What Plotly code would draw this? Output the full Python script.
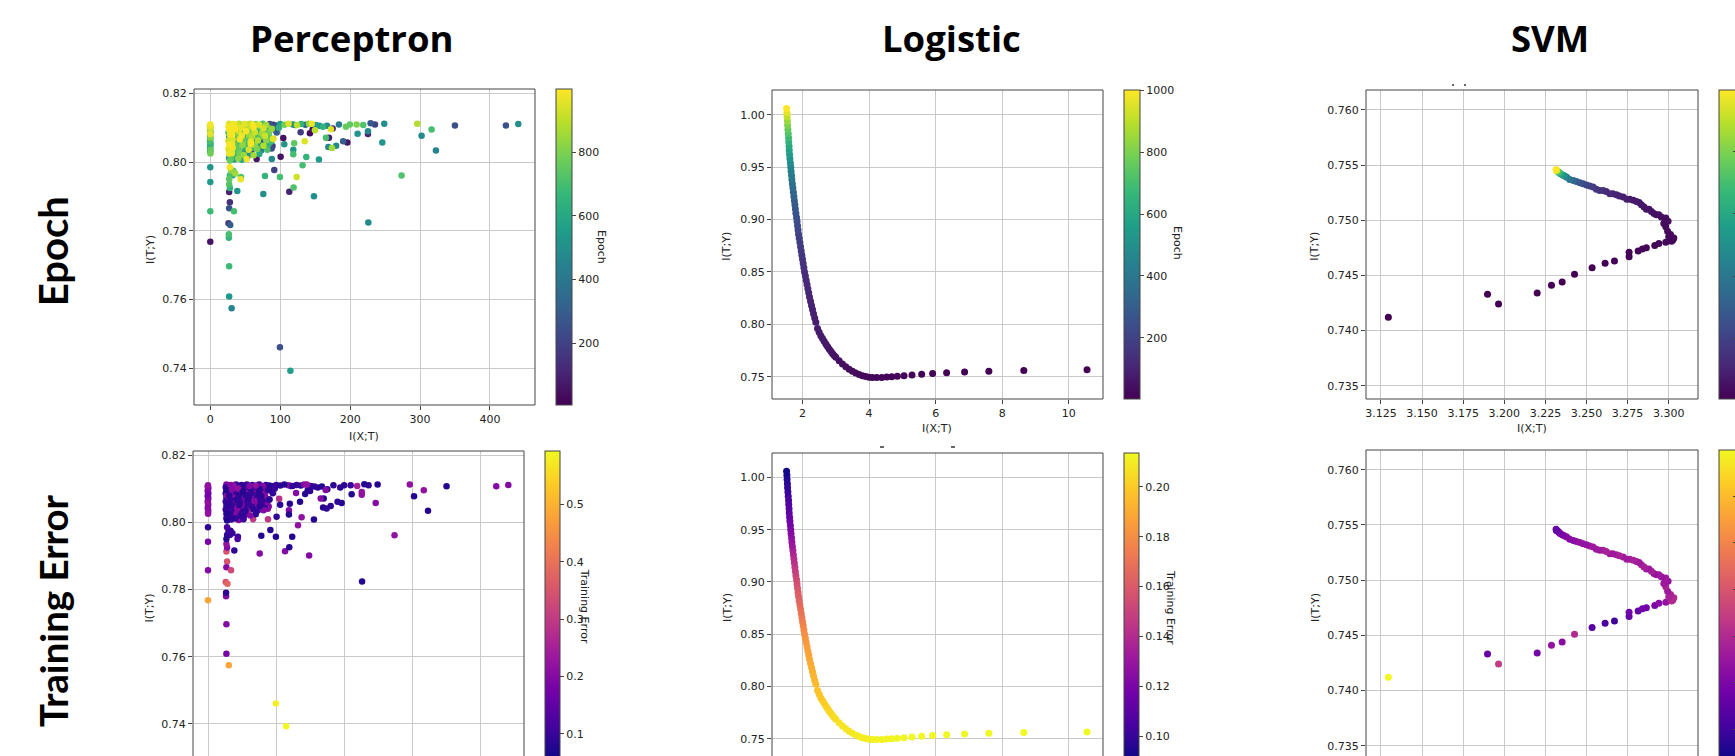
import plotly.graph_objects as go

W, H = 1735, 756


def fx(px):
    return px / W


def fy(py):
    return 1 - py / H


# ---------------- Perceptron data (I(X;T), I(T;Y), epoch, training error) ----------------
# column at I(X;T) ~ 0
perc_c0_x = [0.0, -0.5, 0.5, 0.0, -0.4, 0.3, 0.0, -0.3, 0.4, 0.0, -0.5, 0.2, 0.0, -0.2, 0.3, 0.0, 0.1, 0.0, 0.0, 0.0, 0.0]
perc_c0_y = [0.8110, 0.8106, 0.8102, 0.8097, 0.8092, 0.8087, 0.8082, 0.8077, 0.8072, 0.8066, 0.8060, 0.8054, 0.8048,
             0.8042, 0.8036, 0.8030, 0.8025, 0.7985, 0.7942, 0.7857, 0.7768]
perc_c0_ep = [980, 910, 950, 860, 880, 620, 960, 540, 820, 580, 700, 480, 640, 520, 760, 450, 780, 520, 540, 680, 60]
perc_c0_err = [0.22, 0.24, 0.20, 0.22, 0.20, 0.10, 0.18, 0.09, 0.20, 0.11, 0.22, 0.10, 0.20, 0.12, 0.21, 0.20, 0.22,
               0.09, 0.18, 0.20, 0.48]

# column at I(X;T) ~ 27
perc_c27_x = [27, 29, 26, 28, 27, 30, 26, 28, 27, 29, 26, 28, 27, 29, 26, 28, 27, 29, 27, 28,
              28, 30, 28, 27, 27, 28, 27, 28, 27, 26, 28.5, 26.5, 26.5, 27, 27, 30.5,
              33.8, 35.8, 38.6, 43.4, 43.9, 33, 32]
perc_c27_y = [0.8112, 0.8108, 0.8104, 0.8100, 0.8095, 0.8090, 0.8086, 0.8080, 0.8074, 0.8068,
              0.8062, 0.8056, 0.8050, 0.8044, 0.8038, 0.8032, 0.8025, 0.8018, 0.8012, 0.8005,
              0.7985, 0.7975, 0.7962, 0.7950, 0.7935, 0.7925, 0.7913, 0.7883, 0.7866, 0.7822,
              0.7817, 0.7790, 0.7780, 0.7697, 0.7609, 0.7575,
              0.7857, 0.7967, 0.7916, 0.7950, 0.7957, 0.7975, 0.7962]
perc_c27_ep = [950, 900, 980, 620, 990, 850, 700, 960, 560, 880,
               930, 740, 990, 600, 950, 820, 970, 680, 520, 760,
               980, 820, 700, 740, 720, 660, 100, 150, 260, 180,
               300, 700, 660, 680, 540, 460,
               700, 850, 520, 970, 720, 760, 560]
perc_c27_err = [0.20, 0.22, 0.10, 0.20, 0.08, 0.25, 0.10, 0.22, 0.09, 0.20,
                0.10, 0.22, 0.09, 0.20, 0.10, 0.22, 0.08, 0.20, 0.10, 0.08,
                0.12, 0.10, 0.09, 0.08, 0.22, 0.20, 0.35, 0.35, 0.20, 0.35,
                0.38, 0.09, 0.20, 0.20, 0.18, 0.48,
                0.33, 0.10, 0.09, 0.12, 0.10, 0.09, 0.10]

# dense block, I(X;T) 30..170, I(T;Y) 0.800..0.811
perc_blk_x = [33, 37, 41, 45, 49, 53, 57, 61, 65, 70, 75, 80, 85, 90, 95, 100, 106, 112, 118, 124, 130, 136, 141, 145, 151, 156, 161, 167,
              31, 35, 39, 44, 48, 52, 57, 62, 66, 71, 76, 82, 93.4, 88, 98,
              32, 36, 41, 46, 51, 56, 60, 64, 69, 74, 79, 84, 95,
              31, 35, 40, 45, 50, 55, 60, 66, 72, 78, 84, 90,
              32, 37, 42, 47, 53, 58, 63, 68, 74, 80, 87,
              31, 36, 41, 46, 52, 58, 64, 70, 76, 83, 89,
              32, 37, 43, 49, 55, 61, 67, 73, 81.5, 87.7, 47.8, 58.5,
              31, 36, 42, 48, 55, 62, 70,
              30, 34, 40, 45, 52, 52.9, 66.3, 88, 100.6]
perc_blk_y = [0.8111, 0.8109, 0.8112, 0.8108, 0.8111, 0.8109, 0.8112, 0.8108, 0.8111, 0.8109, 0.8112, 0.8108, 0.8111, 0.8109,
              0.8107, 0.8111, 0.8109, 0.8112, 0.8110, 0.8108, 0.8111, 0.8109, 0.8112, 0.8112, 0.8108, 0.8106, 0.8103, 0.8106,
              0.8101, 0.8098, 0.8103, 0.8100, 0.8097, 0.8102, 0.8099, 0.8101, 0.8097, 0.8103, 0.8099, 0.8101, 0.8093, 0.8097, 0.8100,
              0.8092, 0.8088, 0.8091, 0.8087, 0.8090, 0.8086, 0.8091, 0.8087, 0.8090, 0.8085, 0.8089, 0.8087, 0.8086,
              0.8079, 0.8076, 0.8080, 0.8077, 0.8074, 0.8079, 0.8075, 0.8078, 0.8074, 0.8077, 0.8075, 0.8068,
              0.8066, 0.8063, 0.8066, 0.8062, 0.8065, 0.8061, 0.8066, 0.8063, 0.8060, 0.8064, 0.8060,
              0.8053, 0.8050, 0.8054, 0.8051, 0.8048, 0.8053, 0.8049, 0.8052, 0.8048, 0.8051, 0.8047,
              0.8041, 0.8038, 0.8042, 0.8039, 0.8036, 0.8041, 0.8038, 0.8035, 0.8036, 0.8040, 0.8032, 0.8032,
              0.8026, 0.8022, 0.8026, 0.8021, 0.8024, 0.8020, 0.8024,
              0.8012, 0.8008, 0.8011, 0.8007, 0.8009, 0.8016, 0.8009, 0.8009, 0.8016]
perc_blk_ep = [980, 940, 880, 760, 960, 600, 910, 990, 820, 940, 700, 860, 240, 160, 280, 560, 780, 950, 520, 900, 640, 300, 820, 970, 560, 520, 650, 480,
               920, 990, 720, 960, 560, 900, 840, 980, 620, 760, 930, 700, 220, 840, 620,
               970, 780, 940, 640, 990, 100, 760, 920, 580, 860, 700, 780, 300,
               990, 620, 800, 980, 520, 840, 880, 680, 760, 920, 740, 950,
               940, 600, 990, 760, 720, 960, 500, 880, 240, 820, 700,
               970, 760, 600, 830, 700, 990, 820, 540, 880, 640, 180,
               980, 720, 760, 560, 940, 680, 800, 460, 720, 230, 160, 120,
               960, 640, 780, 840, 520, 860, 600,
               720, 560, 820, 600, 980, 70, 60, 480, 60]
perc_blk_err = [0.20, 0.22, 0.10, 0.20, 0.09, 0.22, 0.10, 0.20, 0.08, 0.22, 0.10, 0.20, 0.09, 0.08, 0.09, 0.10, 0.09, 0.08, 0.20, 0.09, 0.10, 0.08, 0.20, 0.22, 0.09, 0.10, 0.09, 0.08,
                0.09, 0.20, 0.09, 0.22, 0.10, 0.09, 0.20, 0.09, 0.22, 0.10, 0.09, 0.20, 0.09, 0.09, 0.10,
                0.20, 0.09, 0.10, 0.20, 0.08, 0.22, 0.09, 0.10, 0.20, 0.09, 0.10, 0.20, 0.09,
                0.09, 0.10, 0.20, 0.09, 0.22, 0.10, 0.09, 0.20, 0.10, 0.09, 0.22, 0.09,
                0.10, 0.20, 0.09, 0.10, 0.20, 0.09, 0.10, 0.20, 0.09, 0.10, 0.20,
                0.09, 0.10, 0.22, 0.09, 0.20, 0.10, 0.09, 0.20, 0.09, 0.10, 0.20,
                0.10, 0.09, 0.20, 0.10, 0.09, 0.22, 0.09, 0.10, 0.20, 0.20, 0.30, 0.30,
                0.09, 0.10, 0.20, 0.09, 0.10, 0.20, 0.09,
                0.09, 0.10, 0.09, 0.20, 0.10, 0.22, 0.30, 0.30, 0.09]

# scattered outer points
perc_out_x = [440.5, 422.8, 349.9, 322.7, 302.2, 316.5, 296.0, 273.6, 248.8, 246.0,
              225.5, 225.5, 226.0, 210.7, 209.3, 229.3, 235.5, 199.7, 194.0, 218.8,
              184.0, 196.0, 190.0, 180.0, 168.8, 169.7, 174.0, 172.6, 175.0, 165.4,
              155.4, 148.3, 149.7, 146.3, 142.5, 137.3, 135.0, 132.0, 129.2, 123.5,
              119.2, 113.0, 120.0, 118.7, 118.7, 121.6, 104.4, 105.8, 99.6, 91.5,
              90.0, 78.2, 75.8, 99.6, 114.6]
perc_out_y = [0.8111, 0.8107, 0.8107, 0.8034, 0.8077, 0.8095, 0.8112, 0.7961, 0.8112, 0.8057,
              0.8090, 0.8082, 0.7824, 0.8083, 0.8110, 0.8113, 0.8110, 0.8110, 0.8103, 0.8108,
              0.8110, 0.8057, 0.8061, 0.8048, 0.8044, 0.8071, 0.8041, 0.8096, 0.8098, 0.8071,
              0.8008, 0.7901, 0.8093, 0.8095, 0.8084, 0.8015, 0.8061, 0.7991, 0.8087, 0.7957,
              0.7926, 0.7914, 0.8055, 0.8036, 0.8023, 0.8108, 0.8070, 0.8052, 0.7957, 0.7977,
              0.8068, 0.7960, 0.7907, 0.7461, 0.7393]
perc_out_ep = [500, 250, 250, 450, 480, 700, 880, 720, 500, 520,
               470, 100, 480, 520, 800, 280, 200, 750, 760, 720,
               420, 60, 300, 480, 470, 80, 860, 950, 100, 700,
               550, 500, 900, 50, 30, 650, 950, 700, 180, 930,
               720, 100, 750, 530, 700, 220, 50, 520, 700, 200,
               950, 650, 500, 250, 560]
perc_out_err = [0.20, 0.20, 0.08, 0.08, 0.08, 0.22, 0.22, 0.22, 0.08, 0.20,
                0.22, 0.22, 0.08, 0.08, 0.10, 0.08, 0.09, 0.09, 0.09, 0.25,
                0.09, 0.08, 0.09, 0.09, 0.08, 0.08, 0.09, 0.20, 0.09, 0.20,
                0.08, 0.20, 0.09, 0.08, 0.08, 0.22, 0.08, 0.22, 0.20, 0.08,
                0.08, 0.20, 0.08, 0.20, 0.08, 0.09, 0.28, 0.09, 0.08, 0.08,
                0.09, 0.08, 0.20, 0.58, 0.59]

# ---------------- Logistic data ----------------
log_steep_x = [1.52, 1.53, 1.535, 1.545, 1.55, 1.56, 1.57, 1.58, 1.585, 1.595, 1.60, 1.61, 1.62, 1.635, 1.645, 1.655,
               1.67, 1.68, 1.695, 1.71, 1.725, 1.74, 1.755, 1.77, 1.785, 1.80, 1.82, 1.835, 1.85, 1.865, 1.88, 1.90,
               1.92, 1.94, 1.96, 1.98, 2.00, 2.02, 2.04, 2.06, 2.085, 2.11, 2.135, 2.16, 2.185, 2.21, 2.24, 2.27,
               2.30, 2.33, 2.365, 2.40]
log_steep_y = [1.006, 1.002, 0.998, 0.994, 0.990, 0.986, 0.982, 0.978, 0.974, 0.970, 0.966, 0.962, 0.958, 0.954, 0.950, 0.946,
               0.942, 0.938, 0.934, 0.930, 0.926, 0.922, 0.918, 0.914, 0.910, 0.906, 0.902, 0.898, 0.894, 0.890, 0.886, 0.882,
               0.878, 0.874, 0.870, 0.866, 0.862, 0.858, 0.854, 0.850, 0.846, 0.842, 0.838, 0.834, 0.830, 0.826, 0.822, 0.818,
               0.814, 0.810, 0.806, 0.802]
log_steep_ep = [1000, 960, 900, 850, 800, 760, 720, 680, 640, 605, 575, 545, 515, 485, 458, 432,
                410, 390, 370, 350, 330, 312, 297, 282, 268, 256, 244, 232, 220, 210, 200, 190,
                181, 173, 165, 157, 150, 144, 138, 132, 126, 121, 116, 111, 107, 103, 99, 95,
                91, 88, 85, 82]
log_steep_err = [0.091, 0.093, 0.096, 0.098, 0.100, 0.102, 0.104, 0.106, 0.108, 0.110, 0.112, 0.115, 0.117, 0.120, 0.122, 0.125,
                 0.127, 0.130, 0.133, 0.136, 0.139, 0.142, 0.144, 0.147, 0.149, 0.152, 0.154, 0.156, 0.159, 0.161, 0.163, 0.165,
                 0.167, 0.169, 0.171, 0.173, 0.175, 0.177, 0.179, 0.181, 0.183, 0.184, 0.186, 0.187, 0.188, 0.189, 0.190, 0.191,
                 0.192, 0.193, 0.194, 0.195]
log_knee_x = [2.45, 2.50, 2.55, 2.60, 2.65, 2.70, 2.75, 2.80, 2.85, 2.90, 2.95, 3.00, 3.10, 3.20, 3.30, 3.40, 3.50, 3.60,
              3.70, 3.80, 3.90, 4.00, 4.10]
log_knee_y = [0.7960, 0.7925, 0.7890, 0.7865, 0.7838, 0.7812, 0.7788, 0.7765, 0.7743, 0.7722, 0.7703, 0.7685, 0.7652,
              0.7622, 0.7595, 0.7572, 0.7552, 0.7535, 0.7521, 0.7510, 0.7501, 0.7495, 0.7491]
log_knee_ep = [77, 74, 71, 68, 65, 62, 59, 56, 53, 50, 47, 44, 41, 38, 35, 32, 29, 27, 25, 23, 21, 19, 17]
log_knee_err = [0.197, 0.198, 0.199, 0.200, 0.201, 0.202, 0.203, 0.203, 0.204, 0.205, 0.205, 0.206, 0.207, 0.207, 0.208,
                0.208, 0.209, 0.209, 0.210, 0.210, 0.210, 0.211, 0.211]
log_tail_x = [4.23, 4.38, 4.53, 4.68, 4.85, 5.05, 5.29, 5.58, 5.91, 6.33, 6.87, 7.60, 8.65, 10.55]
log_tail_y = [0.7491, 0.7493, 0.7496, 0.7500, 0.7505, 0.7509, 0.7516, 0.7524, 0.7531, 0.7537, 0.7545, 0.7552, 0.7558, 0.7565]
log_tail_ep = [14, 13, 12, 11, 10, 9, 8, 7, 6, 5, 4, 3, 2, 1]
log_tail_err = [0.2115, 0.2118, 0.2120, 0.2122, 0.2124, 0.2126, 0.2127, 0.2128, 0.2129, 0.2130, 0.2131, 0.2132, 0.2133, 0.2134]

# ---------------- SVM data ----------------
svm_path_x = [3.1295, 3.1898, 3.1965, 3.2200, 3.2287, 3.2352, 3.2427, 3.2534, 3.2613, 3.2670,
              3.2759, 3.2759, 3.2814, 3.2840, 3.2864, 3.2915, 3.2940, 3.2982, 3.3017, 3.3031,
              3.3011, 3.2993, 3.2982, 3.2970, 3.2996, 3.2982, 3.2955, 3.2925, 3.2895, 3.2864,
              3.2834, 3.2804, 3.2763, 3.2723, 3.2682, 3.2642, 3.2601, 3.2560, 3.2520, 3.2479,
              3.2439, 3.2398, 3.2368, 3.2342, 3.2328, 3.2320, 3.2317, 3.2315]
svm_path_y = [0.7412, 0.7433, 0.7424, 0.7434, 0.7441, 0.7444, 0.7451, 0.7457, 0.7461, 0.7463,
              0.7467, 0.7471, 0.7472, 0.7474, 0.7475, 0.7477, 0.7479, 0.7480, 0.7481, 0.7484,
              0.7487, 0.7490, 0.7494, 0.7497, 0.7499, 0.7502, 0.7503, 0.7505, 0.7508, 0.7510,
              0.7514, 0.7517, 0.7519, 0.7521, 0.7523, 0.7524, 0.7527, 0.7528, 0.7531, 0.7533,
              0.7535, 0.7537, 0.7540, 0.7542, 0.7544, 0.7545, 0.7545, 0.7546]
svm_path_ep = [1, 2, 3, 4, 5, 6, 7, 8, 9, 10,
               11, 12, 13, 14, 15, 16, 17, 18, 20, 22,
               25, 28, 31, 34, 37, 40, 44, 48, 53, 58,
               64, 70, 78, 88, 100, 115, 135, 160, 190, 230,
               290, 380, 480, 580, 700, 820, 920, 997]
svm_path_err = [0.399, 0.13, 0.22, 0.14, 0.17, 0.16, 0.20, 0.12, 0.11, 0.10,
                0.13, 0.14, 0.13, 0.14, 0.14, 0.15, 0.16, 0.17, 0.20, 0.20,
                0.19, 0.18, 0.19, 0.18, 0.17, 0.18, 0.17, 0.18, 0.19, 0.18,
                0.19, 0.18, 0.19, 0.18, 0.19, 0.18, 0.19, 0.18, 0.18, 0.17,
                0.17, 0.16, 0.16, 0.15, 0.14, 0.14, 0.13, 0.13]
svm_band_x = [3.3025, 3.3000, 3.2980, 3.2940, 3.2910, 3.2880, 3.2850, 3.2820, 3.2785, 3.2745,
              3.2700, 3.2660, 3.2620, 3.2580, 3.2540, 3.2500, 3.2460, 3.2420, 3.2380, 3.2355, 3.2335]
svm_band_y = [0.7482, 0.7485, 0.7500, 0.7505, 0.7506, 0.7510, 0.7512, 0.7516, 0.7518, 0.7519,
              0.7522, 0.7524, 0.7526, 0.7527, 0.7530, 0.7532, 0.7534, 0.7536, 0.7539, 0.7541, 0.7543]
svm_band_ep = [21, 23, 39, 46, 50, 55, 61, 67, 74, 83, 94, 108, 125, 148, 175, 210, 260, 330, 430, 530, 640]
svm_band_err = [0.20, 0.19, 0.18, 0.18, 0.17, 0.18, 0.19, 0.18, 0.19, 0.18,
                0.19, 0.18, 0.19, 0.18, 0.18, 0.17, 0.17, 0.16, 0.16, 0.15, 0.15]

col_titles = ["Perceptron", "Logistic", "SVM"]
row_titles = ["Epoch", "Training Error"]


def combine(*groups):
    xs, ys, es, rs = [], [], [], []
    for gx, gy, ge, gr in groups:
        assert len(gx) == len(gy) == len(ge) == len(gr), (len(gx), len(gy), len(ge), len(gr))
        xs += list(gx); ys += list(gy); es += list(ge); rs += list(gr)
    order = sorted(range(len(xs)), key=lambda i: es[i])
    return ([xs[i] for i in order], [ys[i] for i in order], [es[i] for i in order], [rs[i] for i in order])


perc = combine((perc_c0_x, perc_c0_y, perc_c0_ep, perc_c0_err),
               (perc_c27_x, perc_c27_y, perc_c27_ep, perc_c27_err),
               (perc_blk_x, perc_blk_y, perc_blk_ep, perc_blk_err),
               (perc_out_x, perc_out_y, perc_out_ep, perc_out_err))
logi = combine((log_steep_x, log_steep_y, log_steep_ep, log_steep_err),
               (log_knee_x, log_knee_y, log_knee_ep, log_knee_err),
               (log_tail_x, log_tail_y, log_tail_ep, log_tail_err))
svm = combine((svm_path_x, svm_path_y, svm_path_ep, svm_path_err),
              (svm_band_x, svm_band_y, svm_band_ep, svm_band_err))

TICKFONT = dict(family="DejaVu Sans", size=11, color="#222222")
GRID = "#cacaca"
SPINE = "#444444"

panels = [
    dict(d=perc, c=2, cs="Viridis", g=(194, 535, 89, 405, 405), xr=[-23.3, 464.4], yr=[0.7293, 0.8213],
         xt=[0, 100, 200, 300, 400], xf="d", yt=[0.74, 0.76, 0.78, 0.80, 0.82], yf=".2f",
         cb=dict(x=556, top=89, len=316, th=16, cmin=6, cmax=998, tv=[200, 400, 600, 800], tf="d", lab=True),
         xlab=True, sz=6.5),
    dict(d=logi, c=2, cs="Viridis", g=(772, 1103, 90, 399, 399), xr=[1.082, 11.03], yr=[0.7287, 1.0236],
         xt=[2, 4, 6, 8, 10], xf="d", yt=[0.75, 0.80, 0.85, 0.90, 0.95, 1.00], yf=".2f",
         cb=dict(x=1124, top=90.3, len=308.7, th=16, cmin=1, cmax=1000, tv=[200, 400, 600, 800, 1000], tf="d", lab=True),
         xlab=True, sz=7),
    dict(d=svm, c=2, cs="Viridis", g=(1366, 1698, 90, 399, 399), xr=[3.1159, 3.3178], yr=[0.7338, 0.7618],
         xt=[3.125, 3.15, 3.175, 3.2, 3.225, 3.25, 3.275, 3.3], xf=".3f",
         yt=[0.735, 0.74, 0.745, 0.75, 0.755, 0.76], yf=".3f",
         cb=dict(x=1719, top=90.3, len=308.7, th=17, cmin=5, cmax=997, tv=[200, 400, 600, 800], tf="d", lab=False),
         xlab=True, sz=7),
    dict(d=perc, c=3, cs="Plasma", g=(193, 524, 451, 756, 760), xr=[-22.0, 463.5], yr=[0.73048, 0.82119],
         xt=[0, 100, 200, 300, 400], xf="d", yt=[0.74, 0.76, 0.78, 0.80, 0.82], yf=".2f",
         cb=dict(x=545, top=451, len=309, th=15, cmin=0.0547, cmax=0.5928, tv=[0.1, 0.2, 0.3, 0.4, 0.5], tf=".1f", lab=True),
         xlab=False, sz=6.5),
    dict(d=logi, c=3, cs="Plasma", g=(772, 1103, 453, 756, 761), xr=[1.082, 11.03], yr=[0.73343, 1.02337],
         xt=[2, 4, 6, 8, 10], xf="d", yt=[0.75, 0.80, 0.85, 0.90, 0.95, 1.00], yf=".2f",
         cb=dict(x=1124, top=453.3, len=307.7, th=15, cmin=0.09, cmax=0.2134, tv=[0.10, 0.12, 0.14, 0.16, 0.18, 0.20], tf=".2f", lab=True),
         xlab=False, sz=7),
    dict(d=svm, c=3, cs="Plasma", g=(1366, 1698, 450, 756, 760), xr=[3.1159, 3.3178], yr=[0.73407, 0.76179],
         xt=[3.125, 3.15, 3.175, 3.2, 3.225, 3.25, 3.275, 3.3], xf=".3f",
         yt=[0.735, 0.74, 0.745, 0.75, 0.755, 0.76], yf=".3f",
         cb=dict(x=1719, top=450.3, len=310, th=17, cmin=0.067, cmax=0.399, tv=[0.1, 0.15, 0.2, 0.25, 0.3, 0.35], tf=".2f", lab=False),
         xlab=False, sz=7),
]

fig = go.Figure()
layout = dict(width=W, height=H, margin=dict(l=0, r=0, t=0, b=0, autoexpand=False),
              paper_bgcolor="white", plot_bgcolor="white", showlegend=False)
shapes = []

for i, p in enumerate(panels):
    k = "" if i == 0 else str(i + 1)
    l, r, t, b, btrue = p["g"]
    cb = p["cb"]
    d = p["d"]
    fig.add_trace(go.Scatter(
        x=d[0], y=d[1], mode="markers", xaxis="x" + k, yaxis="y" + k, hoverinfo="skip",
        marker=dict(color=d[p["c"]], colorscale=p["cs"], cmin=cb["cmin"], cmax=cb["cmax"], size=p["sz"],
                    line=dict(width=0), opacity=1, showscale=True,
                    colorbar=dict(x=fx(cb["x"]), xanchor="left", xpad=0, ypad=0, y=fy(cb["top"]), yanchor="top",
                                  len=cb["len"], lenmode="pixels", thickness=cb["th"], thicknessmode="pixels",
                                  outlinewidth=1, outlinecolor=SPINE, borderwidth=0,
                                  tickvals=cb["tv"], tickformat=cb["tf"],
                                  ticks="outside" if cb["lab"] else "inside", ticklen=4 if cb["lab"] else 3,
                                  tickcolor=SPINE, tickwidth=1,
                                  showticklabels=cb["lab"], tickfont=TICKFONT))))
    layout["xaxis" + k] = dict(domain=[fx(l), fx(r)], range=p["xr"], anchor="y" + k,
                               tickvals=p["xt"], tickformat=p["xf"], showgrid=True, gridcolor=GRID, gridwidth=1,
                               zeroline=False, showline=False,
                               ticks="outside" if p["xlab"] else "", ticklen=4, tickwidth=1, tickcolor=SPINE,
                               showticklabels=p["xlab"], tickfont=TICKFONT)
    layout["yaxis" + k] = dict(domain=[fy(b), fy(t)], range=p["yr"], anchor="x" + k,
                               tickvals=p["yt"], tickformat=p["yf"], showgrid=True, gridcolor=GRID, gridwidth=1,
                               zeroline=False, showline=False,
                               ticks="outside", ticklen=4, tickwidth=1, tickcolor=SPINE,
                               tickfont=TICKFONT)
    shapes.append(dict(type="rect", xref="paper", yref="paper", x0=fx(l), x1=fx(r), y0=fy(btrue), y1=fy(t),
                       line=dict(color=SPINE, width=1), fillcolor="rgba(0,0,0,0)", layer="above"))

ann = []


def text(s, px, py, size, angle=0, family="DejaVu Sans", weight="normal", color="#222222"):
    ann.append(dict(text=s, x=fx(px), y=fy(py), xref="paper", yref="paper", showarrow=False,
                    xanchor="center", yanchor="middle", textangle=angle,
                    font=dict(family=family, size=size, color=color, weight=weight)))


# column / row headers
for s, px in zip(col_titles, [352, 952, 1550]):
    text(s, px, 38, 36.5, family="Open Sans", weight="bold", color="black")
text(row_titles[0], 52.5, 251.7, 40, angle=-90, family="Lato", weight="bold", color="black")
text(row_titles[1], 52.5, 610.5, 38.5, angle=-90, family="Lato", weight="bold", color="black")

# axis titles
text("I(X;T)", 364, 436, 11)
text("I(X;T)", 937, 428.5, 11)
text("I(X;T)", 1532, 428.5, 11)
for px, py in [(150, 250), (727, 246.7), (1315, 246.7), (148.5, 608), (727, 608), (1315, 608)]:
    text("I(T;Y)", px, py, 11, angle=-90)

# colorbar labels
text("Epoch", 601.7, 246.7, 11, angle=90)
text("Epoch", 1177, 243, 11, angle=90)
text("Training Error", 584, 605.7, 11, angle=90)
text("Training Error", 1171, 607, 11, angle=90)

# small leftover marks at the top of some panels
for x0, x1, y in [(880, 884, 447), (951, 955, 447), (1452, 1454, 85), (1464, 1466, 85)]:
    shapes.append(dict(type="line", xref="paper", yref="paper", x0=fx(x0), x1=fx(x1), y0=fy(y), y1=fy(y),
                       line=dict(color="#333333", width=1.5)))

layout["annotations"] = ann
layout["shapes"] = shapes
fig.update_layout(**layout)
fig.write_html("out.html",
               config={"displayModeBar": False, "staticPlot": True},
               post_script="document.body.style.margin='0px';document.body.style.padding='0px';"
                           "document.body.style.overflow='hidden';")
